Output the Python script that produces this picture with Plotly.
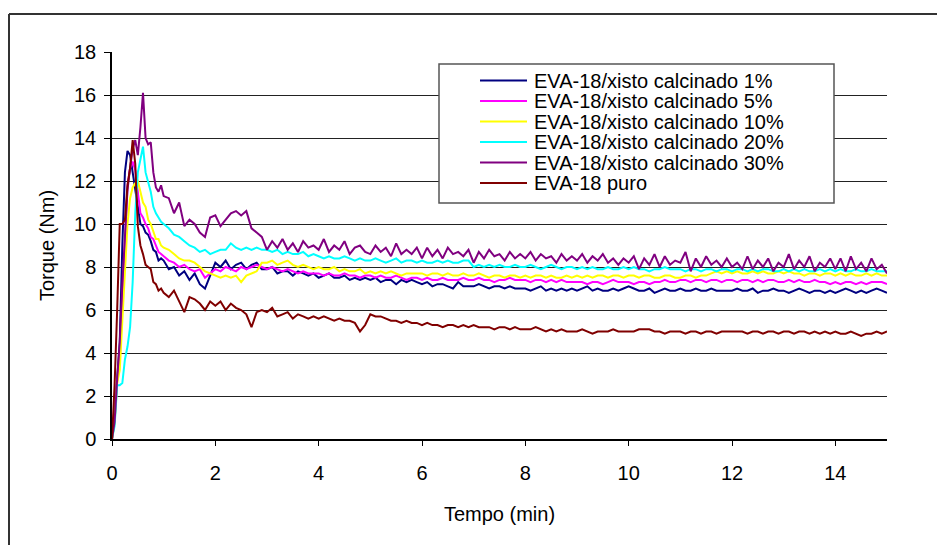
import numpy as np
import plotly.graph_objects as go

# ---------------- data ----------------
# sampling times (min): 0.05 min steps up to 1 min, then 0.1 min steps
time_early = [round(0.05 * i, 2) for i in range(20)]
time_late = [round(1.0 + 0.1 * i, 1) for i in range(141)]
tempo = time_early + time_late

labels = [
    "EVA-18/xisto calcinado 1%",
    "EVA-18/xisto calcinado 5%",
    "EVA-18/xisto calcinado 10%",
    "EVA-18/xisto calcinado 20%",
    "EVA-18/xisto calcinado 30%",
    "EVA-18 puro",
]
colors = ["#000080", "#FF00FF", "#FFFF00", "#00FFFF", "#800080", "#800000"]

xc1_early = [0, 1.0, 2.8, 4.5, 9.0, 12.4, 13.4, 13.2, 12.4, 11.6, 10.8, 10.0, 9.9, 9.6, 9.5, 9.2, 8.8, 8.7, 8.3, 8.4]
xc1_late = [
    8.3, 7.9, 8.0, 7.6, 7.8, 7.4, 7.7, 7.2, 7.0, 7.6,
    8.2, 8.0, 8.3, 7.9, 8.1, 8.2, 7.9, 8.1, 8.2, 7.9,
    7.9, 8.0, 7.7, 7.8, 7.8, 7.6, 7.8, 7.7, 7.6, 7.7,
    7.5, 7.6, 7.7, 7.5, 7.5, 7.6, 7.4, 7.5, 7.4, 7.5,
    7.4, 7.5, 7.3, 7.4, 7.4, 7.2, 7.4, 7.3, 7.4, 7.3,
    7.2, 7.3, 7.1, 7.2, 7.2, 7.1, 7.0, 7.3, 7.1, 7.1,
    7.1, 7.2, 7.1, 7.0, 7.1, 7.1, 7.0, 7.1, 7.0, 7.0,
    7.0, 6.9, 7.0, 7.1, 6.9, 7.0, 6.9, 7.0, 6.9, 7.0,
    6.9, 7.0, 7.1, 6.9, 7.0, 6.9, 6.9, 7.0, 6.9, 7.0,
    7.1, 7.0, 6.9, 6.9, 7.0, 6.8, 6.9, 7.0, 6.9, 6.9,
    7.0, 6.9, 6.9, 7.0, 6.9, 6.9, 7.0, 6.9, 6.9, 6.9,
    6.9, 7.0, 6.9, 6.9, 7.0, 6.8, 6.9, 6.9, 7.0, 6.9,
    6.9, 6.8, 6.9, 7.0, 6.9, 6.8, 6.9, 6.9, 6.8, 6.9,
    6.8, 6.9, 7.0, 6.9, 6.8, 6.9, 6.8, 6.9, 7.0, 6.9,
    6.8,
]

xc5_early = [0, 0.8, 2.7, 3.6, 6.5, 9.5, 11.8, 12.6, 12.9, 12.5, 11.5, 10.5, 10.3, 10.0, 9.8, 9.4, 9.3, 9.0, 8.7, 8.6]
xc5_late = [
    8.5, 8.3, 8.2, 8.0, 8.1, 7.9, 7.8, 7.9, 7.5, 7.7,
    7.9, 7.8, 8.0, 7.9, 7.8, 8.0, 7.9, 8.0, 8.1, 8.0,
    7.9, 8.0, 7.9, 7.8, 7.9, 7.8, 7.7, 7.8, 7.7, 7.7,
    7.7, 7.6, 7.7, 7.6, 7.6, 7.7, 7.6, 7.6, 7.5, 7.6,
    7.6, 7.5, 7.6, 7.5, 7.5, 7.6, 7.5, 7.4, 7.5, 7.5,
    7.4, 7.5, 7.4, 7.4, 7.5, 7.4, 7.4, 7.4, 7.5, 7.4,
    7.4, 7.5, 7.4, 7.4, 7.3, 7.4, 7.4, 7.5, 7.4, 7.4,
    7.4, 7.3, 7.4, 7.4, 7.3, 7.4, 7.3, 7.4, 7.3, 7.3,
    7.3, 7.3, 7.2, 7.3, 7.3, 7.2, 7.3, 7.4, 7.3, 7.3,
    7.3, 7.2, 7.3, 7.3, 7.2, 7.3, 7.3, 7.4, 7.3, 7.3,
    7.4, 7.4, 7.3, 7.4, 7.4, 7.3, 7.4, 7.4, 7.3, 7.4,
    7.4, 7.3, 7.4, 7.4, 7.3, 7.4, 7.3, 7.4, 7.4, 7.3,
    7.3, 7.4, 7.3, 7.4, 7.3, 7.3, 7.4, 7.3, 7.3, 7.2,
    7.3, 7.2, 7.3, 7.3, 7.2, 7.3, 7.2, 7.3, 7.3, 7.3,
    7.2,
]

xc10_early = [0, 0.7, 2.6, 3.2, 5.5, 8.0, 10.0, 11.2, 11.7, 11.9, 12.0, 11.5, 11.0, 10.8, 10.2, 10.0, 9.6, 9.3, 9.3, 9.0]
xc10_late = [
    8.9, 8.8, 8.6, 8.4, 8.3, 8.3, 8.2, 8.0, 7.8, 7.7,
    7.6, 7.5, 7.6, 7.5, 7.6, 7.3, 7.6, 7.7, 7.8, 8.2,
    8.2, 8.3, 8.1, 8.2, 8.3, 8.1, 8.0, 8.1, 8.0, 7.9,
    8.0, 7.9, 7.9, 8.0, 7.8, 7.9, 7.8, 7.8, 7.9, 7.7,
    7.8, 7.7, 7.8, 7.7, 7.8, 7.7, 7.6, 7.7, 7.7, 7.7,
    7.7, 7.6, 7.7, 7.7, 7.6, 7.7, 7.6, 7.6, 7.7, 7.6,
    7.6, 7.7, 7.6, 7.5, 7.6, 7.6, 7.5, 7.6, 7.6, 7.5,
    7.6, 7.5, 7.6, 7.6, 7.5, 7.6, 7.5, 7.5, 7.6, 7.5,
    7.6, 7.5, 7.6, 7.5, 7.6, 7.6, 7.5, 7.6, 7.6, 7.5,
    7.6, 7.6, 7.5, 7.6, 7.6, 7.5, 7.5, 7.6, 7.6, 7.5,
    7.5, 7.6, 7.6, 7.5, 7.6, 7.6, 7.7, 7.8, 7.7, 7.8,
    7.7, 7.8, 7.7, 7.7, 7.8, 7.7, 7.8, 7.7, 7.7, 7.8,
    7.7, 7.8, 7.7, 7.7, 7.6, 7.7, 7.7, 7.6, 7.7, 7.7,
    7.6, 7.7, 7.6, 7.7, 7.6, 7.6, 7.7, 7.6, 7.7, 7.6,
    7.6,
]

xc20_early = [0, 0.6, 2.5, 2.5, 2.6, 3.7, 4.3, 5.2, 7.3, 10.5, 12.4, 13.0, 13.6, 12.4, 12.0, 11.5, 10.8, 10.5, 10.3, 10.1]
xc20_late = [
    10.0, 9.8, 9.5, 9.4, 9.2, 9.0, 8.9, 8.7, 8.8, 8.6,
    8.7, 8.8, 8.8, 9.1, 8.9, 8.8, 8.9, 8.8, 8.9, 8.8,
    8.8, 8.7, 8.8, 8.6, 8.7, 8.6, 8.6, 8.7, 8.5, 8.6,
    8.5, 8.4, 8.5, 8.4, 8.4, 8.5, 8.4, 8.3, 8.4, 8.3,
    8.3, 8.4, 8.3, 8.2, 8.3, 8.4, 8.2, 8.3, 8.3, 8.2,
    8.3, 8.2, 8.2, 8.3, 8.2, 8.3, 8.2, 8.2, 8.3, 8.3,
    8.0, 8.1, 8.0, 8.1, 8.0, 8.1, 8.0, 8.0, 8.1, 8.0,
    8.0, 8.1, 8.0, 7.9, 8.0, 8.1, 8.0, 7.9, 8.0, 8.0,
    7.9, 8.0, 7.9, 8.0, 7.9, 7.9, 8.0, 7.9, 7.9, 8.0,
    7.9, 8.0, 7.9, 7.9, 7.8, 7.9, 7.9, 8.0, 7.9, 7.9,
    7.9, 7.8, 7.9, 7.9, 7.8, 7.9, 7.9, 7.8, 7.9, 7.9,
    7.8, 7.9, 7.9, 7.8, 7.9, 7.8, 7.9, 7.9, 7.8, 7.8,
    7.9, 7.8, 7.9, 7.8, 7.9, 7.8, 7.8, 7.9, 7.8, 7.9,
    7.8, 7.9, 7.8, 7.8, 7.9, 7.8, 7.8, 7.9, 7.8, 7.8,
    7.8,
]

xc30_early = [0, 0.8, 2.8, 4.5, 7.2, 9.6, 11.6, 12.6, 13.5, 13.9, 13.2, 14.5, 16.1, 14.0, 13.7, 13.8, 12.4, 11.7, 11.5, 11.8]
xc30_late = [
    11.3, 11.2, 10.5, 11.0, 9.9, 10.2, 10.0, 9.6, 9.4, 10.3,
    10.4, 9.9, 10.2, 10.5, 10.6, 10.4, 10.6, 9.8, 9.6, 9.4,
    8.8, 9.2, 8.9, 9.3, 8.8, 9.1, 8.7, 9.2, 8.9, 9.0,
    8.8, 9.3, 8.7, 9.0, 8.8, 9.2, 8.6, 8.9, 9.0, 8.7,
    8.6, 9.0, 8.7, 8.9, 8.5, 9.1, 8.6, 8.8, 8.6, 8.9,
    8.4, 8.9, 8.5, 8.8, 8.4, 8.9, 8.6, 8.7, 8.5, 8.8,
    8.2, 8.7, 8.4, 8.8, 8.5, 8.6, 8.3, 8.7, 8.4, 8.6,
    8.4, 8.7, 8.3, 8.6, 8.4, 8.5, 8.2, 8.6, 8.3, 8.5,
    8.3, 8.6, 8.2, 8.5, 8.3, 8.6, 8.2, 8.4, 8.1, 8.4,
    8.2, 8.5, 7.9, 8.4, 8.1, 8.6, 8.0, 8.5, 8.1, 8.3,
    8.2, 8.7, 7.8, 8.4, 8.0, 8.5, 8.1, 8.3, 8.0, 8.4,
    8.0, 8.2, 7.9, 8.5, 7.9, 8.3, 8.0, 8.4, 7.8, 8.2,
    8.0, 8.6, 7.9, 8.3, 8.0, 8.5, 7.8, 8.2, 8.0, 8.4,
    7.9, 8.4, 7.8, 8.5, 7.9, 8.2, 7.8, 8.4, 7.9, 8.1,
    7.7,
]

puro_early = [0, 2.5, 6.0, 10.0, 10.0, 10.2, 11.8, 12.6, 13.9, 12.8, 9.9, 9.0, 8.6, 8.1, 8.0, 7.9, 7.3, 7.2, 6.9, 7.0]
puro_late = [
    6.8, 6.6, 6.9, 6.4, 5.9, 6.6, 6.5, 6.3, 6.0, 6.4,
    6.2, 6.4, 6.0, 6.3, 6.1, 6.0, 5.8, 5.2, 5.9, 6.0,
    5.9, 6.1, 5.7, 5.8, 5.9, 5.6, 5.8, 5.7, 5.6, 5.7,
    5.6, 5.7, 5.6, 5.5, 5.6, 5.5, 5.5, 5.4, 5.0, 5.3,
    5.8, 5.7, 5.7, 5.6, 5.5, 5.5, 5.4, 5.5, 5.4, 5.4,
    5.3, 5.4, 5.3, 5.3, 5.2, 5.3, 5.3, 5.2, 5.3, 5.2,
    5.3, 5.2, 5.2, 5.2, 5.1, 5.2, 5.2, 5.1, 5.2, 5.1,
    5.1, 5.1, 5.2, 5.1, 5.0, 5.1, 5.0, 5.1, 5.0, 5.0,
    5.0, 5.1, 5.0, 4.9, 5.0, 5.0, 5.0, 5.1, 5.0, 5.0,
    5.0, 5.0, 5.1, 5.1, 5.1, 5.0, 5.0, 4.9, 5.0, 5.0,
    5.0, 4.9, 5.0, 5.0, 4.9, 5.0, 5.0, 4.9, 5.0, 5.0,
    5.0, 5.0, 5.0, 4.9, 5.0, 5.0, 4.9, 5.0, 5.0, 4.9,
    5.0, 5.0, 4.9, 5.0, 5.0, 4.9, 5.0, 4.9, 5.0, 4.9,
    5.0, 4.9, 4.9, 5.0, 4.9, 4.8, 4.9, 4.9, 5.0, 4.9,
    5.0,
]

series = [
    xc1_early + xc1_late,
    xc5_early + xc5_late,
    xc10_early + xc10_late,
    xc20_early + xc20_late,
    xc30_early + xc30_late,
    puro_early + puro_late,
]

x_ticks = [0, 2, 4, 6, 8, 10, 12, 14]
y_ticks = [0, 2, 4, 6, 8, 10, 12, 14, 16, 18]

# ---------------- layout constants (pixels) ----------------
W, H = 937, 545
ML, MR, MT, MB = 112, 50, 52, 106
PW, PH = W - ML - MR, H - MT - MB


def px(xp):
    return (xp - ML) / PW


def py(yp):
    return (H - MB - yp) / PH


FONT = "Liberation Sans, Arial, sans-serif"

fig = go.Figure()
for vals, name, col in zip(series, labels, colors):
    fig.add_trace(go.Scatter(
        x=tempo, y=vals, mode="lines", name=name,
        line=dict(color=col, width=2), showlegend=False,
        hoverinfo="skip",
    ))

shapes = []
annotations = []

# outer chart frame (left and top edges visible)
shapes.append(dict(type="line", xref="paper", yref="paper",
                   x0=px(9), x1=px(W + 5), y0=py(14), y1=py(14),
                   line=dict(color="#333333", width=2)))
shapes.append(dict(type="line", xref="paper", yref="paper",
                   x0=px(9), x1=px(9), y0=py(14), y1=py(H + 5),
                   line=dict(color="#333333", width=2)))

# legend box
LX0, LX1, LY0, LY1 = 439, 834, 64, 203
shapes.append(dict(type="rect", xref="paper", yref="paper",
                   x0=px(LX0), x1=px(LX1), y0=py(LY0), y1=py(LY1),
                   fillcolor="white", line=dict(color="#555555", width=1.5),
                   layer="above"))
row_y0, row_dy = 80.5, 20.5
for i, (name, col) in enumerate(zip(labels, colors)):
    yc = row_y0 + i * row_dy
    shapes.append(dict(type="line", xref="paper", yref="paper",
                       x0=px(480), x1=px(527), y0=py(yc), y1=py(yc),
                       line=dict(color=col, width=2), layer="above"))
    annotations.append(dict(xref="paper", yref="paper", x=px(532), y=py(yc),
                            text=name, showarrow=False, xanchor="left",
                            yanchor="middle",
                            font=dict(family=FONT, size=20, color="black")))

fig.update_layout(
    width=W, height=H,
    margin=dict(l=ML, r=MR, t=MT, b=MB),
    paper_bgcolor="white", plot_bgcolor="white",
    font=dict(family=FONT, size=20, color="black"),
    showlegend=False,
    shapes=shapes, annotations=annotations,
    xaxis=dict(
        range=[0, 15], tickmode="array", tickvals=x_ticks,
        ticks="outside", ticklen=5, tickcolor="black", tickwidth=1,
        showline=True, linecolor="black", linewidth=1.5,
        showgrid=False, zeroline=False,
        tickfont=dict(family=FONT, size=20, color="black"),
        ticklabelstandoff=10,
        title=dict(text="Tempo (min)", font=dict(family=FONT, size=20, color="black"),
                   standoff=24),
    ),
    yaxis=dict(
        range=[0, 18], tickmode="array", tickvals=y_ticks,
        ticks="outside", ticklen=6, tickcolor="black", tickwidth=1,
        showline=True, linecolor="black", linewidth=1.5,
        showgrid=True, gridcolor="#222222", gridwidth=1,
        zeroline=False,
        tickfont=dict(family=FONT, size=20, color="black"),
        ticklabelstandoff=4,
        title=dict(text="Torque (Nm)", font=dict(family=FONT, size=20, color="black"),
                   standoff=14),
    ),
)

fig.write_html("out.html")
